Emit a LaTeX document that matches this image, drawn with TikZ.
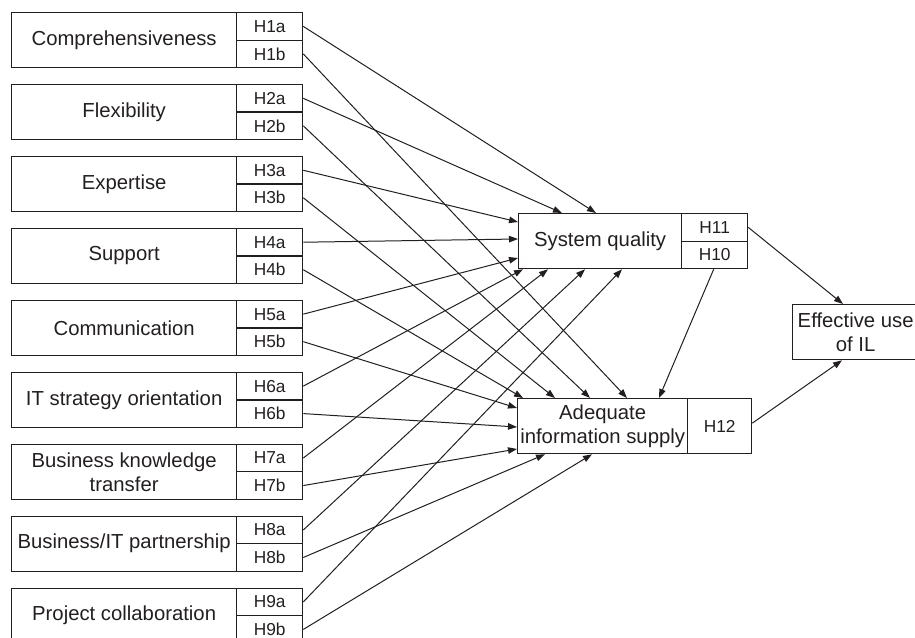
\documentclass[tikz,border=0pt]{standalone}
\usepackage{fontspec}
\setmainfont{Liberation Sans}
\usetikzlibrary{arrows.meta,calc}
\definecolor{ink}{HTML}{231F20}
\begin{document}
\begin{tikzpicture}[x=1pt,y=-1pt,
  box/.style={draw=ink, text=ink, line width=1.3pt, inner sep=0pt, anchor=north west,
    font=\fontsize{20.3}{24}\selectfont, align=center, minimum height=55pt},
  hcell/.style={draw=ink, text=ink, line width=1.3pt, inner sep=0pt, anchor=north west,
    minimum width=66pt, minimum height=27.5pt, font=\fontsize{17.3}{20}\selectfont},
  link/.style={draw=ink, line width=1pt, -{Triangle[length=9pt,width=6.5pt]}}]
\clip (0,0) rectangle (915,637);
\useasboundingbox (0,0) rectangle (915,637);

% left boxes
\node[box, minimum width=225pt] (m1) at (11,12) {Comprehensiveness};
\node[box, minimum width=225pt] (m2) at (11,83.94) {Flexibility};
\node[box, minimum width=225pt] (m3) at (11,155.88) {Expertise};
\node[box, minimum width=225pt] (m4) at (11,227.82) {Support};
\node[box, minimum width=225pt] (m5) at (11,299.76) {Communication};
\node[box, minimum width=225pt] (m6) at (11,371.7) {IT strategy orientation};
\node[box, minimum width=225pt] (m7) at (11,443.64) {Business knowledge\\transfer};
\node[box, minimum width=225pt] (m8) at (11,515.58) {Business/IT partnership};
\node[box, minimum width=225pt] (m9) at (11,587.52) {Project collaboration};

\foreach \i in {1,...,9}{
  \pgfmathsetmacro\T{12+71.94*(\i-1)}
  \node[hcell] (a\i) at (236,\T) {H\i a};
  \node[hcell] (b\i) at (236,\T+27.5) {H\i b};
}

% system quality
\node[box, minimum width=163pt] (sq) at (518,213) {System quality};
\node[hcell] (h11) at (681,213) {H11};
\node[hcell] (h10) at (681,240.5) {H10};

% adequate information supply
\node[box, minimum width=170pt] (ads) at (517,398) {Adequate\\information supply};
\node[hcell, minimum height=55pt, minimum width=64pt] (h12) at (687,398) {H12};

% effective use
\node[box, minimum width=126pt] (eff) at (792,304) {Effective use\\of IL};

% links to system quality
\draw[link] (a1.east) -- ([xshift=78pt]sq.north west);
\draw[link] (a2.east) -- ([xshift=44pt]sq.north west);
\draw[link] (a3.east) -- ([yshift=-9pt]sq.north west);
\draw[link] (a4.east) -- ([yshift=-26pt]sq.north west);
\draw[link] (a5.east) -- ([yshift=-45pt]sq.north west);
\draw[link] (a6.east) -- ([xshift=5pt]sq.south west);
\draw[link] (a7.east) -- ([xshift=30pt]sq.south west);
\draw[link] (a8.east) -- ([xshift=67pt]sq.south west);
\draw[link] (a9.east) -- ([xshift=104pt]sq.south west);

% links to adequate information supply
\draw[link] (b1.east) -- ([xshift=110pt]ads.north west);
\draw[link] (b2.east) -- ([xshift=73pt]ads.north west);
\draw[link] (b3.east) -- ([xshift=38pt]ads.north west);
\draw[link] (b4.east) -- ([xshift=6pt]ads.north west);
\draw[link] (b5.east) -- ([yshift=-10pt]ads.north west);
\draw[link] (b6.east) -- ([yshift=-29pt]ads.north west);
\draw[link] (b7.east) -- ([yshift=-51pt]ads.north west);
\draw[link] (b8.east) -- ([xshift=28pt]ads.south west);
\draw[link] (b9.east) -- ([xshift=75pt]ads.south west);

\draw[link] ([xshift=-1pt]h10.south) -- ([xshift=142pt]ads.north west);

% to effective use
\draw[link] (h11.east) -- ([xshift=51pt]eff.north west);
\draw[link] ([yshift=3pt]h12.east) -- ([xshift=50pt]eff.south west);
\end{tikzpicture}
\end{document}
